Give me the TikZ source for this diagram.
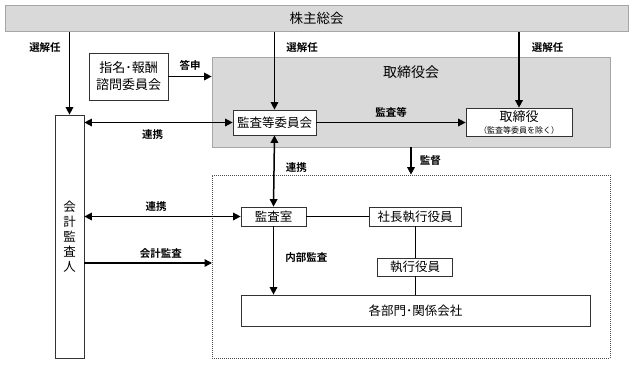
\documentclass[tikz,border=0pt]{standalone}
\usepackage{fontspec}
\setmainfont{Noto Sans CJK JP}[BoldFont={Noto Sans CJK JP Bold}]
\usetikzlibrary{arrows.meta, positioning}

\begin{document}
\begin{tikzpicture}[
        x=1pt, y=-1pt,
        box/.style={rectangle, draw=black!80, line width=0.7pt, inner sep=0pt,
                    align=center, font=\fontsize{12.5}{14}\selectfont},
        gbox/.style={box, fill=black!15, draw=black!35},
        lbl/.style={font=\fontsize{10.5}{12}\selectfont\bfseries, inner sep=2pt},
        arrow/.style={-{Triangle[length=7.5pt, width=7.5pt]}, line width=1.5pt},
        darrow/.style={{Triangle[length=7.5pt, width=7.5pt]}-{Triangle[length=7.5pt, width=7.5pt]}, line width=1.5pt},
        line/.style={line width=0.9pt},
    ]
    \useasboundingbox (0,0) rectangle (633,365);

    % 上：株主総会
    \node[gbox, minimum width=623pt, minimum height=26pt, font=\fontsize{13.5}{15}\selectfont]
        (soukai) at (316.5,18.5) {株主総会};

    % 左：会計監査人
    \node[box, minimum width=29pt, minimum height=243pt, font=\fontsize{12.5}{15}\selectfont]
        (kansanin) at (69.5,236.5) {会\\計\\監\\査\\人};

    % 指名・報酬諮問委員会
    \node[box, minimum width=79pt, minimum height=47pt, font=\fontsize{13}{17}\selectfont]
        (shimei) at (128.5,76.5) {指名･報酬\\諮問委員会};

    % 取締役会（灰色の枠）
    \node[gbox, minimum width=398pt, minimum height=90pt] (torikai) at (411,102) {};
    \node[font=\fontsize{14}{16}\selectfont, below=6pt of torikai.north] (torikaititle) {取締役会};
    \node[box, fill=white, minimum width=83pt, minimum height=25pt] (iinkai) at (274.5,122.5) {監査等委員会};
    \node[box, fill=white, minimum width=106pt, minimum height=28pt, font=\fontsize{13}{13}\selectfont]
        (toriyaku) at (519,122) {取締役\\[-1pt]{\fontsize{8}{9}\selectfont （監査等委員を除く）}};

    % 執行部門（点線の枠）
    \node[rectangle, draw=black!70, line width=0.7pt, dash pattern=on 1pt off 1pt,
          minimum width=398pt, minimum height=183pt] (shikkobu) at (411,266.5) {};
    \node[box, minimum width=65pt, minimum height=19pt] (kansashitsu) at (273.5,216.5) {監査室};
    \node[box, minimum width=92pt, minimum height=19pt] (shacho) at (415,216.5) {社長執行役員};
    \node[box, minimum width=75pt, minimum height=18pt] (shikko) at (415,267) {執行役員};
    \node[box, minimum width=349pt, minimum height=31pt] (kakubu) at (415.5,310.5) {各部門･関係会社};
    \coordinate (kaikei) at (212,263);

    % 選解任
    \draw[arrow] (soukai.south -| kansanin) to node[lbl, pos=0.19, left=6pt] {選解任} (kansanin.north);
    \draw[arrow] (soukai.south -| iinkai) to node[lbl, pos=0.2, right=9pt] {選解任} (iinkai.north);
    \draw[arrow] (soukai.south -| toriyaku) to node[lbl, pos=0.21, right=10pt] {選解任} (toriyaku.north);

    % 答申・監査等・監督
    \draw[arrow] (shimei.east) to node[lbl, above=3pt] {答申} (shimei.east -| torikai.west);
    \draw[arrow] (iinkai.east) to node[lbl, above=2pt] {監査等} (toriyaku.west |- iinkai.east);
    \draw[arrow] (torikai.south -| torikaititle) to node[lbl, right=6pt] {監督} (shikkobu.north -| torikaititle);

    % 連携
    \draw[darrow] (kansanin.east |- iinkai.west) to node[lbl, pos=0.46, below=4pt] {連携} (iinkai.west);
    \draw[darrow] (iinkai.south) to node[lbl, pos=0.45, right=9pt] {連携} (kansashitsu.north);
    \draw[darrow] (kansanin.east |- kansashitsu.west) to node[lbl, pos=0.46, above=2pt] {連携} (kansashitsu.west);

    % 会計監査・内部監査
    \draw[arrow] (kansanin.east |- kaikei) to node[lbl, pos=0.6, above=2pt] {会計監査} (kaikei);
    \draw[arrow] (kansashitsu.south) to node[lbl, pos=0.45, right=9pt] {内部監査} (kakubu.north -| kansashitsu);

    % 執行ライン
    \draw[line] (kansashitsu.east) -- (shacho.west);
    \draw[line] (shacho.south) -- (shikko.north);
    \draw[line] (shikko.south) -- (kakubu.north -| shikko);

\end{tikzpicture}
\end{document}
